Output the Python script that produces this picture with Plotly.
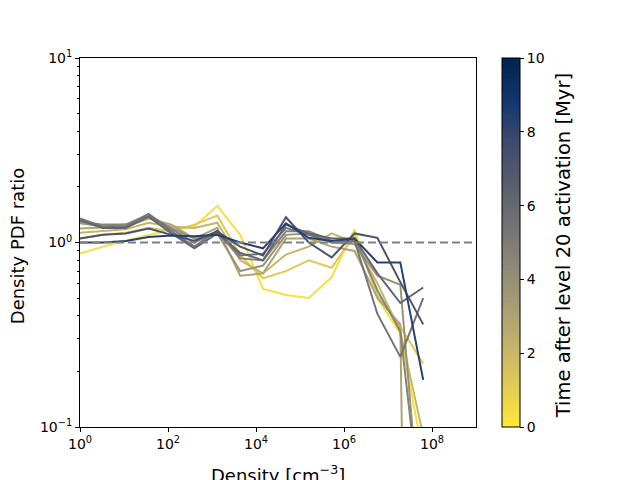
import plotly.graph_objects as go
from plotly.colors import sample_colorscale

# density bin centres [cm^-3]
density = [1.0, 3.31, 10.96, 36.3, 120.2, 398.0, 1318.0, 4365.0, 14454.0, 47863.0,
           158489.0, 524807.0, 1.74e6, 5.75e6, 1.905e7, 6.31e7]

# time after level 20 activation [Myr] for each curve
times = [0.3, 1.2, 2.1, 3.0, 3.8, 4.6, 5.4, 6.2, 7.2, 8.3]

# density PDF ratio per curve (1e-9 stands for an empty bin)
ratio_t03 = [0.87, 0.95, 1.02, 1.10, 1.17, 1.22, 1.58, 1.10, 0.56, 0.52, 0.50, 0.65, 1.18, 0.50, 0.32, 0.07]
ratio_t12 = [1.05, 1.10, 1.13, 1.20, 1.15, 1.25, 1.40, 0.85, 0.64, 0.70, 0.80, 0.73, 1.10, 0.52, 0.35, 0.22]
ratio_t21 = [1.13, 1.15, 1.18, 1.28, 1.22, 1.20, 1.28, 0.80, 0.68, 0.86, 0.95, 1.12, 1.00, 0.60, 0.33, 0.09]
ratio_t30 = [1.19, 1.20, 1.22, 1.35, 1.25, 1.05, 1.20, 0.66, 0.68, 1.05, 1.05, 0.95, 0.90, 0.50, 0.36, 1e-9]
ratio_t38 = [1.27, 1.22, 1.25, 1.40, 1.20, 1.05, 1.12, 0.70, 0.75, 1.10, 1.12, 1.00, 0.98, 0.66, 0.59, 0.02]
ratio_t46 = [1.30, 1.25, 1.25, 1.42, 1.18, 1.00, 1.15, 0.82, 0.80, 1.15, 1.15, 1.02, 1.05, 0.55, 0.33, 0.027]
ratio_t54 = [1.35, 1.22, 1.22, 1.43, 1.15, 0.95, 1.16, 0.85, 0.87, 1.20, 1.10, 1.00, 1.02, 0.41, 0.24, 0.50]
ratio_t62 = [1.32, 1.20, 1.20, 1.38, 1.12, 0.93, 1.12, 0.88, 0.80, 1.25, 1.12, 1.05, 1.05, 0.68, 0.47, 0.57]
ratio_t72 = [1.05, 1.10, 1.12, 1.19, 1.10, 1.02, 1.15, 0.95, 0.85, 1.37, 1.00, 0.83, 1.12, 1.06, 0.61, 0.36]
ratio_t83 = [1.00, 1.00, 1.02, 1.07, 1.09, 1.08, 1.10, 1.00, 0.93, 1.27, 1.06, 1.02, 1.05, 0.78, 0.78, 0.18]

ratios = [ratio_t03, ratio_t12, ratio_t21, ratio_t30, ratio_t38,
          ratio_t46, ratio_t54, ratio_t62, ratio_t72, ratio_t83]

ratio_ref = 1.0
x_span = [1.0, 1e9]

t_min, t_max = 0, 10
cbar_ticks = [0, 2, 4, 6, 8, 10]
x_ticks = [1, 1e2, 1e4, 1e6, 1e8]
x_ticktext = ['10<sup>0</sup>', '10<sup>2</sup>', '10<sup>4</sup>', '10<sup>6</sup>', '10<sup>8</sup>']
y_ticks = [0.1, 1, 10]
y_ticktext = ['10<sup>\u22121</sup>', '10<sup>0</sup>', '10<sup>1</sup>']
y_minor = [0.2, 0.3, 0.4, 0.5, 0.6, 0.7, 0.8, 0.9, 2, 3, 4, 5, 6, 7, 8, 9]

FONT = 'DejaVu Sans'
cmap = 'Cividis_r'

fig = go.Figure()

for t, r in zip(times, ratios):
    col = sample_colorscale(cmap, [(t - t_min) / (t_max - t_min)])[0]
    fig.add_trace(go.Scatter(x=density, y=r, mode='lines',
                             line=dict(color=col, width=2),
                             showlegend=False, hoverinfo='skip'))

# reference line
fig.add_trace(go.Scatter(x=x_span, y=[ratio_ref, ratio_ref], mode='lines',
                         line=dict(color='#808080', width=2, dash='8px,4px'),
                         showlegend=False, hoverinfo='skip'))

# colorbar only
fig.add_trace(go.Scatter(x=[density[0]], y=[ratio_ref], mode='markers',
                         marker=dict(size=1, opacity=0, color=[t_min],
                                     colorscale=cmap, cmin=t_min, cmax=t_max,
                                     showscale=True,
                                     colorbar=dict(x=1.0657, xanchor='left', y=0.5, yanchor='middle',
                                                   len=1, lenmode='fraction', thickness=18,
                                                   xpad=0, ypad=0,
                                                   outlinewidth=1, outlinecolor='black',
                                                   ticks='outside', ticklen=4, tickwidth=1,
                                                   tickcolor='black',
                                                   tickvals=cbar_ticks,
                                                   tickfont=dict(family=FONT, size=14, color='black'))),
                         showlegend=False, hoverinfo='skip'))

# the page body adds 8px on the top and left, so margins are shifted to compensate
fig.update_layout(
    width=640, height=480,
    margin=dict(l=72, r=172, t=50, b=61),
    plot_bgcolor='white', paper_bgcolor='white',
    font=dict(family=FONT, color='black'),
)

fig.update_xaxes(type='log', range=[0, 9], tickvals=x_ticks, ticktext=x_ticktext,
                 showline=True, mirror=True, linecolor='black', linewidth=1,
                 ticks='outside', ticklen=4, tickwidth=1, tickcolor='black',
                 showgrid=False, zeroline=False, tickfont=dict(size=14))
fig.update_yaxes(type='log', range=[-1, 1], tickvals=y_ticks, ticktext=y_ticktext,
                 showline=True, mirror=True, linecolor='black', linewidth=1,
                 ticks='outside', ticklen=4, tickwidth=1, tickcolor='black',
                 minor=dict(tickvals=y_minor, ticks='outside', ticklen=2.5,
                            tickwidth=0.8, tickcolor='black', showgrid=False),
                 showgrid=False, zeroline=False, tickfont=dict(size=14))

fig.add_annotation(text='Density [cm<sup>\u22123</sup>]', xref='paper', yref='paper',
                   x=0.5, y=-0.09, xanchor='center', yanchor='top', showarrow=False,
                   font=dict(size=18))
fig.add_annotation(text='Density PDF ratio', xref='paper', yref='paper',
                   x=-0.159, y=0.49, textangle=-90, xanchor='center', yanchor='middle',
                   showarrow=False, font=dict(size=18))
fig.add_annotation(text='Time after level 20 activation [Myr]', xref='paper', yref='paper',
                   x=1.2197, y=0.49, textangle=-90, xanchor='center', yanchor='middle',
                   showarrow=False, font=dict(size=19.5))

fig.write_html("out.html")
